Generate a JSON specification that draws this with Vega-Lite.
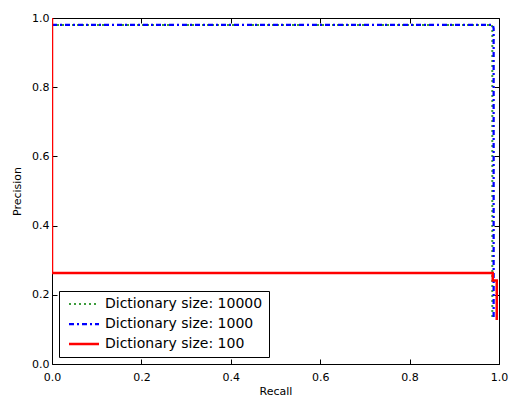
{
  "$schema": "https://vega.github.io/schema/vega-lite/v6.json",
  "width": 447,
  "height": 346,
  "autosize": {"type": "none"},
  "padding": {"left": 52, "top": 18, "right": 10, "bottom": 34},
  "background": "white",
  "config": {
    "font": "DejaVu Sans",
    "view": {"stroke": "black", "strokeWidth": 1},
    "axis": {
      "grid": false,
      "domain": false,
      "tickColor": "black",
      "tickSize": -5,
      "labelFlush": false,
      "labelOverlap": false,
      "labelColor": "black",
      "labelFontSize": 11,
      "titleFontSize": 11,
      "titleFontWeight": "normal",
      "titleColor": "black",
      "labelFont": "DejaVu Sans",
      "titleFont": "DejaVu Sans"
    }
  },
  "data": {
    "values": [
      {"series": "Dictionary size: 10000", "o": 0, "recall": 0.0, "precision": 0.98},
      {"series": "Dictionary size: 10000", "o": 1, "recall": 0.984, "precision": 0.98},
      {"series": "Dictionary size: 10000", "o": 2, "recall": 0.985, "precision": 0.97},
      {"series": "Dictionary size: 10000", "o": 3, "recall": 0.985, "precision": 0.13},
      {"series": "Dictionary size: 1000", "o": 0, "recall": 0.0, "precision": 0.98},
      {"series": "Dictionary size: 1000", "o": 1, "recall": 0.986, "precision": 0.98},
      {"series": "Dictionary size: 1000", "o": 2, "recall": 0.988, "precision": 0.97},
      {"series": "Dictionary size: 1000", "o": 3, "recall": 0.988, "precision": 0.13},
      {"series": "Dictionary size: 100", "o": 0, "recall": 0.0, "precision": 1.0},
      {"series": "Dictionary size: 100", "o": 1, "recall": 0.0, "precision": 0.263},
      {"series": "Dictionary size: 100", "o": 2, "recall": 0.986, "precision": 0.263},
      {"series": "Dictionary size: 100", "o": 3, "recall": 0.986, "precision": 0.241},
      {"series": "Dictionary size: 100", "o": 4, "recall": 0.995, "precision": 0.241},
      {"series": "Dictionary size: 100", "o": 5, "recall": 0.995, "precision": 0.127}
    ]
  },
  "layer": [
    {
      "mark": {"type": "line", "opacity": 0},
      "encoding": {
        "x": {
          "field": "recall", "type": "quantitative",
          "scale": {"domain": [0, 1], "nice": false},
          "axis": {"orient": "top", "labels": false, "title": null, "values": [0, 0.2, 0.4, 0.6, 0.8, 1.0]}
        },
        "y": {
          "field": "precision", "type": "quantitative",
          "scale": {"domain": [0, 1], "nice": false},
          "axis": {"orient": "right", "labels": false, "title": null, "values": [0, 0.2, 0.4, 0.6, 0.8, 1.0]}
        }
      }
    },
    {
      "mark": {"type": "line", "clip": true},
      "encoding": {
        "x": {
          "field": "recall", "type": "quantitative",
          "scale": {"domain": [0, 1], "nice": false},
          "axis": {"orient": "bottom", "title": "Recall", "values": [0, 0.2, 0.4, 0.6, 0.8, 1.0], "format": ".1f", "labelPadding": 12, "titlePadding": 3}
        },
        "y": {
          "field": "precision", "type": "quantitative",
          "scale": {"domain": [0, 1], "nice": false},
          "axis": {"orient": "left", "title": "Precision", "values": [0, 0.2, 0.4, 0.6, 0.8, 1.0], "format": ".1f", "labelPadding": 8, "titlePadding": 9}
        },
        "order": {"field": "o", "type": "quantitative"},
        "color": {
          "field": "series", "type": "nominal",
          "scale": {
            "domain": ["Dictionary size: 10000", "Dictionary size: 1000", "Dictionary size: 100"],
            "range": ["#3c9c3c", "#0000ff", "#ff0000"]
          },
          "legend": {
            "title": null,
            "orient": "none",
            "legendX": 7,
            "legendY": 273,
            "symbolType": "M-3,0H3",
            "symbolSize": 100,
            "labelFontSize": 14,
            "labelColor": "black",
            "labelFont": "DejaVu Sans",
            "strokeColor": "black",
            "fillColor": "white",
            "padding": 6,
            "rowPadding": 6,
            "labelOffset": 14,
            "symbolOffset": 12
          }
        },
        "strokeDash": {
          "field": "series", "type": "nominal",
          "scale": {
            "domain": ["Dictionary size: 10000", "Dictionary size: 1000", "Dictionary size: 100"],
            "range": [[2, 3], [5, 3, 2, 3], [1, 0]]
          },
          "legend": null
        },
        "strokeWidth": {
          "field": "series", "type": "nominal",
          "scale": {
            "domain": ["Dictionary size: 10000", "Dictionary size: 1000", "Dictionary size: 100"],
            "range": [2, 2.5, 3]
          },
          "legend": null
        }
      }
    }
  ],
  "resolve": {"axis": {"x": "independent", "y": "independent"}}
}
